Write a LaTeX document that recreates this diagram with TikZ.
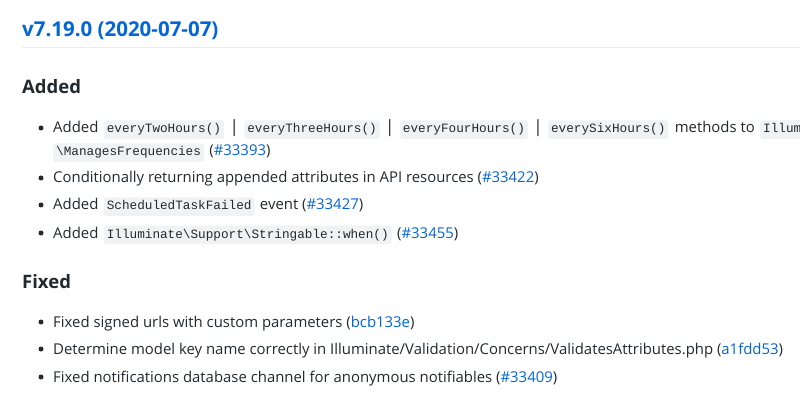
\documentclass[tikz,border=0pt]{standalone}
\usepackage{fontspec}
\setmainfont{Open Sans}
\setmonofont{Liberation Mono}
\definecolor{lnk}{HTML}{0366D6}
\definecolor{txt}{HTML}{24292E}
\definecolor{cbg}{HTML}{F1F2F3}
\definecolor{rule}{HTML}{EAECEF}
\begin{document}
\begin{tikzpicture}[x=1pt,y=-1pt,
  t/.style={anchor=base west,inner sep=0pt,text=txt,font=\fontsize{14.9}{16}\selectfont},
  c/.style={anchor=base west,inner xsep=3pt,inner ysep=3.5pt,fill=cbg,rounded corners=3pt,text=txt,font=\ttfamily\fontsize{12.7}{14}\selectfont,text depth=2.5pt,text height=9pt},
  bar/.style={anchor=base west,inner sep=0pt,text=txt,font=\fontsize{17}{18}\selectfont},
  b/.style={circle,fill=txt,inner sep=0pt,minimum size=5pt},
  h/.style={anchor=base west,inner sep=0pt,text=txt,font=\bfseries\fontsize{18.5}{20}\selectfont}]
\clip (0,0) rectangle (800,406);
\fill[white] (0,0) rectangle (800,406);
\node[anchor=base west,inner sep=0pt,text=lnk,font=\bfseries\fontsize{20.5}{22}\selectfont] (title) at (22,37) {v7.19.0 (2020-07-07)};
\draw[rule,line width=1pt] (22,48) coordinate (r1) -- (800,48) coordinate (r2);
\node[h] (added) at (22,94) {Added};
% item 1
\node[b] (b1) at (41,128) {};
\node[t] (a1) at (53,133) {Added};
\node[c,xshift=5pt] (c1) at (a1.base east) {everyTwoHours()};
\node[bar,xshift=5pt] (p1) at (c1.base east) {|};
\node[c,xshift=5pt] (c2) at (p1.base east) {everyThreeHours()};
\node[bar,xshift=5pt] (p2) at (c2.base east) {|};
\node[c,xshift=5pt] (c3) at (p2.base east) {everyFourHours()};
\node[bar,xshift=5pt] (p3) at (c3.base east) {|};
\node[c,xshift=5pt] (c4) at (p3.base east) {everySixHours()};
\node[t,xshift=6pt] (m1) at (c4.base east) {methods to};
\node[c,xshift=5pt] (c5) at (m1.base east) {Illuminate};
\node[c] (c6) at (53,156) {\textbackslash ManagesFrequencies};
\node[t,xshift=5pt] (m2) at (c6.base east) {(\textcolor{lnk}{\#33393})};
% item 2
\node[b] (b2) at (41,178) {};
\node[t] (i2) at (53,183) {Conditionally returning appended attributes in API resources (\textcolor{lnk}{\#33422})};
% item 3
\node[b] (b3) at (41,205) {};
\node[t] (a3) at (53,210) {Added};
\node[c,xshift=5pt] (c7) at (a3.base east) {ScheduledTaskFailed};
\node[t,xshift=5pt] (e3) at (c7.base east) {event (\textcolor{lnk}{\#33427})};
% item 4
\node[b] (b4) at (41,233) {};
\node[t] (a4) at (53,238) {Added};
\node[c,xshift=5pt] (c8) at (a4.base east) {Illuminate\textbackslash Support\textbackslash Stringable::when()};
\node[t,xshift=5pt] (e4) at (c8.base east) {(\textcolor{lnk}{\#33455})};
% Fixed
\node[h] (fixed) at (22,288) {Fixed};
\node[b] (b5) at (41,322) {};
\node[t] (f1) at (53,327) {Fixed signed urls with custom parameters (\textcolor{lnk}{bcb133e})};
\node[b] (b6) at (41,349) {};
\node[t] (f2) at (53,354) {Determine model key name correctly in Illuminate/Validation/Concerns/ValidatesAttributes.php (\textcolor{lnk}{a1fdd53})};
\node[b] (b7) at (41,377) {};
\node[t] (f3) at (53,382) {Fixed notifications database channel for anonymous notifiables (\textcolor{lnk}{\#33409})};
\end{tikzpicture}
\end{document}
